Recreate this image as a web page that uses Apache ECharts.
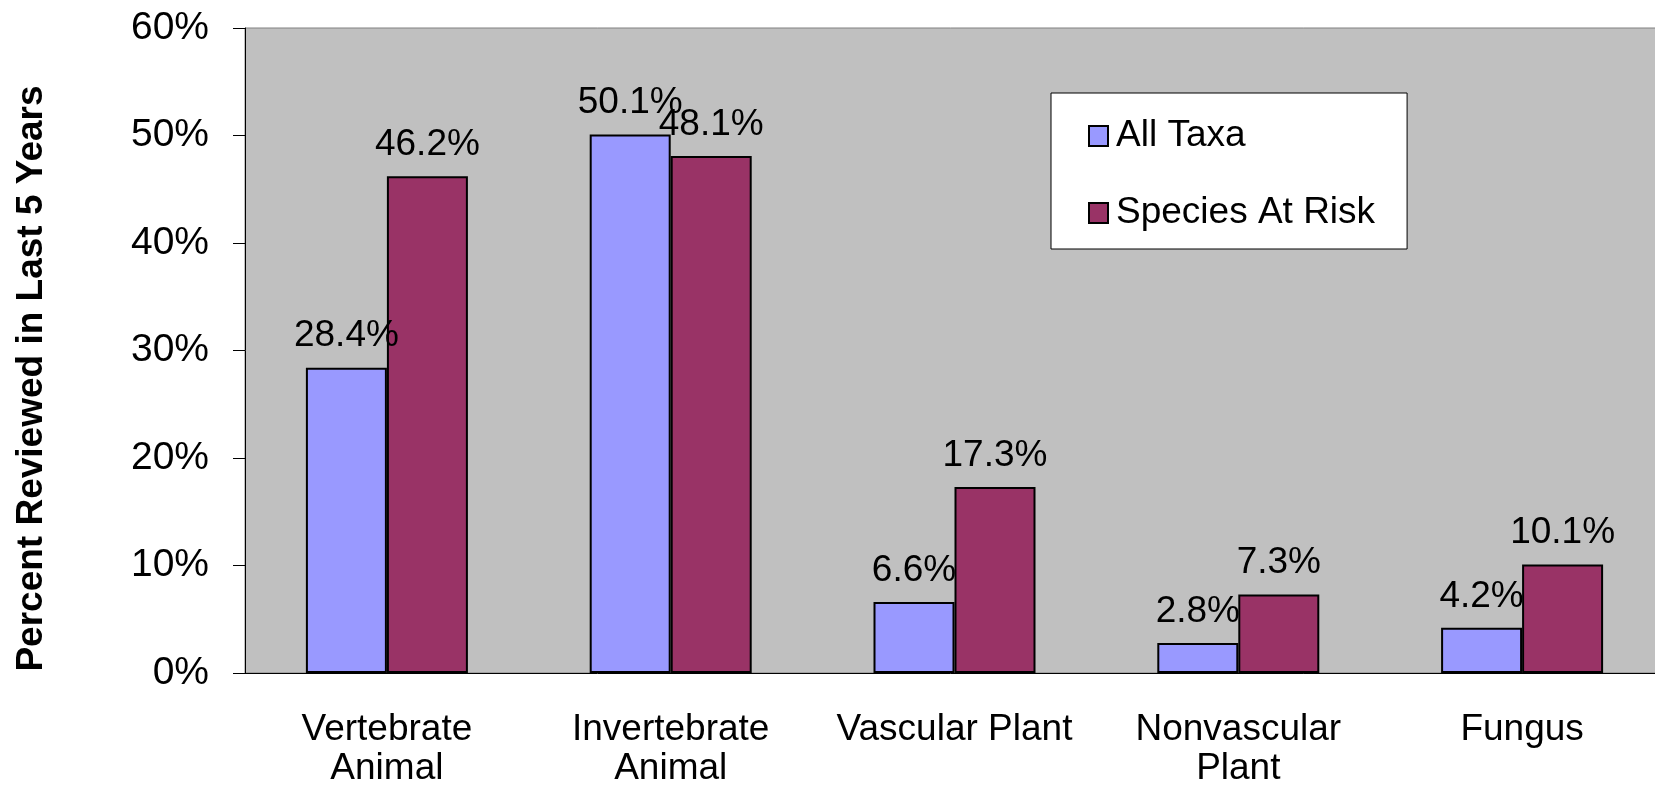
<!DOCTYPE html>
<html>
<head>
<meta charset="utf-8">
<script src="https://cdn.jsdelivr.net/npm/echarts@6/dist/echarts.min.js"></script>
<style>
  html, body { margin: 0; padding: 0; background: #fff; }
  #chart { width: 1655px; height: 786px; }
</style>
</head>
<body>
<div id="chart"></div>
<script>
const categories = ['Vertebrate\nAnimal', 'Invertebrate\nAnimal', 'Vascular Plant', 'Nonvascular\nPlant', 'Fungus']
const allTaxa = [28.4, 50.1, 6.6, 2.8, 4.2]
const speciesAtRisk = [46.2, 48.1, 17.3, 7.3, 10.1]
const seriesNames = ['All Taxa', 'Species At Risk']
const yTicks = { min: 0, max: 60, interval: 10 }

const font = '"Liberation Sans", Arial, sans-serif'
const chart = echarts.init(document.getElementById('chart'))

const barLabel = {
  show: true,
  position: 'top',
  distance: 13,
  color: '#000',
  fontFamily: font,
  fontSize: 37,
  formatter: p => p.value.toFixed(1) + '%'
}

const option = {
  backgroundColor: '#fff',
  animation: false,
  grid: {
    left: 245,
    top: 28,
    right: -9,
    bottom: 113,
    outerBoundsMode: 'none',
    containLabel: false,
    show: true,
    backgroundColor: '#C0C0C0',
    borderColor: '#808080',
    borderWidth: 1
  },
  legend: {
    orient: 'vertical',
    left: 1051,
    top: 93,
    data: seriesNames,
    backgroundColor: '#fff',
    borderColor: '#000',
    borderWidth: 1,
    padding: [23, 32, 16, 37],
    itemGap: 37,
    icon: 'rect',
    itemWidth: 19,
    itemHeight: 20,
    itemStyle: { borderColor: '#000', borderWidth: 2 },
    textStyle: {
      color: '#000',
      fontFamily: font,
      fontSize: 37,
      lineHeight: 40,
      padding: [0, 0, 0, 3]
    }
  },
  xAxis: {
    type: 'category',
    data: categories,
    axisLine: { lineStyle: { color: '#000', width: 1 } },
    axisTick: { length: 12, lineStyle: { color: '#000' } },
    axisLabel: {
      interval: 0,
      margin: 37,
      color: '#000',
      fontFamily: font,
      fontSize: 37,
      lineHeight: 39
    }
  },
  yAxis: {
    type: 'value',
    min: yTicks.min,
    max: yTicks.max,
    interval: yTicks.interval,
    name: 'Percent Reviewed in Last 5 Years',
    nameLocation: 'middle',
    nameGap: 195,
    nameTextStyle: {
      color: '#000',
      fontFamily: font,
      fontSize: 37,
      fontWeight: 'bold',
      padding: [0, 56, 0, 0]
    },
    axisLine: { show: true, lineStyle: { color: '#000', width: 1 } },
    axisTick: { show: true, length: 12, lineStyle: { color: '#000' } },
    splitLine: { show: false },
    axisLabel: {
      margin: 36,
      color: '#000',
      fontFamily: font,
      fontSize: 39,
      formatter: '{value}%'
    }
  },
  series: [
    {
      name: seriesNames[0],
      type: 'bar',
      data: allTaxa,
      barWidth: 81,
      barGap: '0%',
      itemStyle: { color: '#9999FF', borderColor: '#000', borderWidth: 2 },
      label: barLabel
    },
    {
      name: seriesNames[1],
      type: 'bar',
      data: speciesAtRisk,
      barWidth: 81,
      barGap: '0%',
      itemStyle: { color: '#993366', borderColor: '#000', borderWidth: 2 },
      label: barLabel
    }
  ]
}

chart.setOption(option)
</script>
</body>
</html>
